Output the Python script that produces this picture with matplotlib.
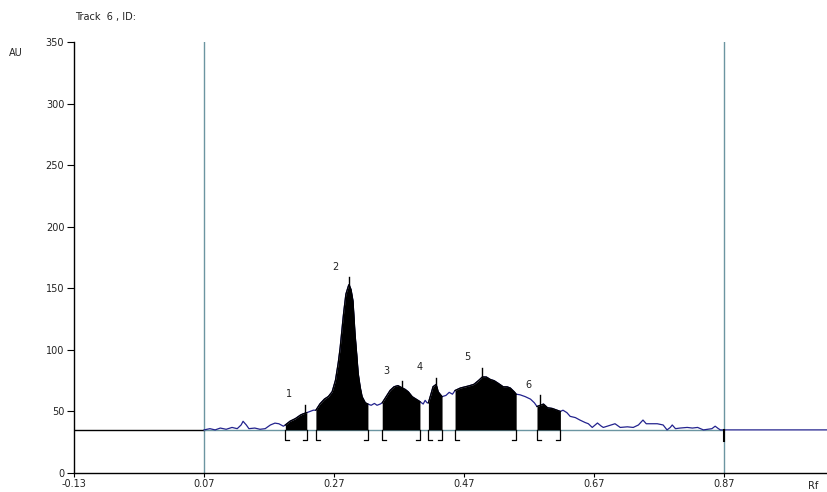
import numpy as np
import matplotlib
matplotlib.use("Agg")
import matplotlib.pyplot as plt

plt.rcParams['font.family'] = ['DejaVu Sans']

# --- 掃描曲線 (Rf, AU) ---
rf = [0.070, 0.079, 0.087, 0.095, 0.104, 0.113, 0.121, 0.127, 0.130, 0.135,
      0.139, 0.148, 0.156, 0.164, 0.172, 0.179, 0.185, 0.192, 0.195, 0.202,
      0.210, 0.218, 0.222, 0.225, 0.228, 0.233, 0.238, 0.242, 0.248, 0.255,
      0.261, 0.267, 0.272, 0.276, 0.279, 0.284, 0.288, 0.292, 0.293, 0.296,
      0.299, 0.302, 0.305, 0.307, 0.310, 0.313, 0.318, 0.322, 0.327, 0.332,
      0.336, 0.341, 0.344, 0.350, 0.356, 0.362, 0.368, 0.375, 0.379, 0.384,
      0.390, 0.396, 0.402, 0.407, 0.410, 0.413, 0.415, 0.419, 0.422, 0.427,
      0.430, 0.433, 0.436, 0.442, 0.447, 0.452, 0.456, 0.464, 0.472, 0.479,
      0.485, 0.492, 0.498, 0.504, 0.510, 0.516, 0.522, 0.530, 0.536, 0.541,
      0.547, 0.550, 0.556, 0.564, 0.572, 0.578, 0.582, 0.587, 0.592, 0.598,
      0.605, 0.613, 0.618, 0.622, 0.628, 0.633, 0.641, 0.648, 0.656, 0.661,
      0.667, 0.675, 0.681, 0.684, 0.693, 0.702, 0.710, 0.721, 0.730, 0.738,
      0.745, 0.750, 0.756, 0.767, 0.776, 0.782, 0.787, 0.790, 0.795, 0.802,
      0.813, 0.821, 0.829, 0.838, 0.844, 0.851, 0.856, 0.861, 0.864, 0.870,
      1.028]
au = [35, 36, 35, 36.5, 35.5, 37, 36, 39, 42, 39,
      36, 36.5, 35.5, 36, 39, 40.5, 40, 38, 39, 42,
      44, 47, 48, 48.5, 49, 50, 51, 51, 56, 60,
      62, 66, 75, 88, 100, 127, 145, 152, 153, 149,
      140, 114, 95, 81, 70, 62, 57, 56, 55, 56.5,
      55, 56, 57, 62, 67, 70, 71, 69, 68, 66,
      62, 60, 58, 56, 59, 57, 57, 64, 70, 72,
      66, 64, 62, 63, 65.5, 64, 67, 69, 70, 71,
      72, 75, 78, 78, 76, 75, 73, 70, 70, 69,
      66, 64, 63.5, 62, 60, 57, 54, 55, 56, 53,
      52.5, 51, 50, 51, 49, 46, 45, 43, 41, 40,
      37, 40.6, 38, 37, 38.5, 40, 37, 37.5, 37, 39,
      43, 40, 40, 40, 39, 35, 37, 39, 36, 36.5,
      37, 36.5, 37, 35, 35.5, 36, 38, 36, 35, 35,
      35]

baseline = 35

# --- 積分區間 ---
zone_start = [0.195, 0.242, 0.344, 0.415, 0.456, 0.582]
zone_end = [0.228, 0.322, 0.402, 0.436, 0.550, 0.618]
peak_rf = [0.225, 0.293, 0.375, 0.427, 0.498, 0.587]
peak_top = [55, 159, 75, 77, 85, 63]
peak_names = ['1', '2', '3', '4', '5', '6']
label_rf = [0.201, 0.272, 0.350, 0.402, 0.475, 0.569]
label_au = [60, 163, 79, 82, 90, 67]

front_rf = 0.07
solvent_rf = 0.87
xticks = [-0.13, 0.07, 0.27, 0.47, 0.67, 0.87]
xticklabels = ['-0.13', '0.07', '0.27', '0.47', '0.67', '0.87']
yticks = [0, 50, 100, 150, 200, 250, 300, 350]

navy = '#23238e'
teal = '#6b95a1'
txt = '#222222'

fig = plt.figure(figsize=(8.27, 4.92), dpi=100)
ax = fig.add_axes([74 / 827, 1 - 473 / 492, 1 - 74 / 827, (473 - 42) / 492])
ax.set_xlim(-0.13, 1.028)
ax.set_ylim(0, 350)

# 基線
ax.plot([-0.13, front_rf], [baseline, baseline], color='black', lw=1.0, zorder=2)
ax.plot([front_rf, solvent_rf], [baseline, baseline], color=teal, lw=1.0, zorder=2)

# 曲線
ax.plot(rf, au, color=navy, lw=0.9, zorder=3)

# 積分面積 (黑色填滿)
for s, e in zip(zone_start, zone_end):
    xs = np.linspace(s, e, 200)
    ys = np.interp(xs, rf, au)
    ax.fill_between(xs, baseline, ys, color='black', lw=0, zorder=4)
    ax.plot(xs, ys, color='black', lw=0.9, zorder=4)
    # 括號
    ax.plot([s + 0.006, s, s], [27, 27, baseline], color='black', lw=0.9, zorder=4)
    ax.plot([e - 0.006, e, e], [27, 27, baseline], color='black', lw=0.9, zorder=4)

# 峰頂標記
for p, t in zip(peak_rf, peak_top):
    ax.plot([p, p], [np.interp(p, rf, au), t], color='black', lw=1.0, zorder=5)

for name, lx, ly in zip(peak_names, label_rf, label_au):
    ax.text(lx, ly, name, fontsize=7, ha='center', va='bottom', color=txt)

# 前沿 / 溶劑線
ax.axvline(front_rf, color=teal, lw=1.0, zorder=1)
ax.axvline(solvent_rf, color=teal, lw=1.0, zorder=1)
ax.plot([solvent_rf, solvent_rf], [26, baseline], color='black', lw=1.5, zorder=5)

ax.spines['top'].set_visible(False)
ax.spines['right'].set_visible(False)
ax.spines['left'].set_linewidth(1.0)
ax.spines['bottom'].set_linewidth(1.0)
ax.set_xticks(xticks)
ax.set_xticklabels(xticklabels)
ax.set_yticks(yticks)
ax.tick_params(axis='y', direction='out', length=5, width=0.8, pad=2,
               labelsize=7, labelcolor=txt)
ax.tick_params(axis='x', direction='out', length=3, width=0.8, pad=1,
               labelsize=7, labelcolor=txt)

fig.text(75 / 827, 1 - 17 / 492, 'Track  6 , ID:', fontsize=7, va='center', ha='left', color=txt)
fig.text(9 / 827, 1 - 53 / 492, 'AU', fontsize=7, va='center', ha='left', color=txt)
fig.text(808 / 827, 1 - 481 / 492, 'Rf', fontsize=7, va='top', ha='left', color=txt)

fig.savefig('out.png', dpi=100)
